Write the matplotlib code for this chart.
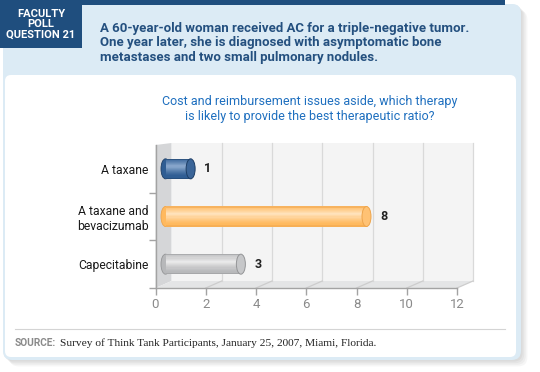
import numpy as np
import matplotlib
matplotlib.use('Agg')
import matplotlib.pyplot as plt
import matplotlib.transforms as mtrans
from matplotlib.patches import FancyBboxPatch, Rectangle, Polygon, Ellipse
from matplotlib.colors import to_rgb

plt.rcParams['font.family'] = ['Roboto', 'DejaVu Sans']

# Datos de la encuesta
categorias = ['A taxane', 'A taxane and\nbevacizumab', 'Capecitabine']
votos = [1, 8, 3]
xticks = [0, 2, 4, 6, 8, 10, 12]

colores_base = ['#2f5d93', '#ffb95e', '#b7b8ba']
colores_luz = ['#8aa8cd', '#ffe4c0', '#ececec']
colores_tapa = ['#3b6598', '#ffc274', '#c6c7c9']
colores_borde = ['#1d3e66', '#eea54c', '#949597']

encabezado = 'FACULTY\nPOLL\nQUESTION 21'
titulo = ('A 60-year-old woman received AC for a triple-negative tumor.\n'
          'One year later, she is diagnosed with asymptomatic bone\n'
          'metastases and two small pulmonary nodules.')
pregunta = ('Cost and reimbursement issues aside, which therapy\n'
            'is likely to provide the best therapeutic ratio?')
fuente = 'Survey of Think Tank Participants, January 25, 2007, Miami, Florida.'

W, H = 540, 372
AZUL = '#1f4e7e'
fig = plt.figure(figsize=(W / 100, H / 100), dpi=100)

# --- fondo y marcos (coordenadas en pixeles) ---
bg = fig.add_axes([0, 0, 1, 1], zorder=0)
bg.set_xlim(0, W)
bg.set_ylim(H, 0)
bg.axis('off')

for k in range(5):
    bg.add_patch(FancyBboxPatch((3 + 1.6 * k, 4 + 1.6 * k), 518, 356,
                                boxstyle='round,pad=0,rounding_size=9',
                                fc='black', ec='none', alpha=0.035))
bg.add_patch(FancyBboxPatch((3, 4), 518, 356, boxstyle='round,pad=0,rounding_size=9',
                            fc='#dcebf5', ec='none'))
bg.add_patch(Rectangle((0, 0), 505, 4.5, fc=AZUL, ec='none'))
bg.add_patch(Rectangle((0, 0), 82, 48, fc=AZUL, ec='none'))
bg.add_patch(FancyBboxPatch((5, 75), 511, 282, boxstyle='round,pad=0,rounding_size=6',
                            fc='white', ec='none'))
bg.plot([15, 505], [329, 329], color='#d4d4d4', lw=0.8)

bg.text(41, 24, encabezado, ha='center', va='center', color='white',
        fontsize=8, fontweight='bold', linespacing=1.05)
bg.text(100, 22, titulo, ha='left', va='top', color='#24507f',
        fontsize=9.5, fontweight='bold', linespacing=1.13)
bg.text(310, 109, pregunta, ha='center', va='center', color='#1e6fbf',
        fontsize=9, linespacing=1.2, multialignment='center')
bg.text(15, 343, 'SOURCE:', ha='left', va='center', color='#8a8a8a',
        fontsize=7.3, fontweight='bold')
bg.text(60, 343, fuente, ha='left', va='center', color='#222222',
        fontsize=8.2, family='Liberation Serif')

# --- grafico ---
ax = fig.add_axes([155.5 / W, 1 - 288 / H, 301.5 / W, 143 / H], zorder=1)
ax.patch.set_alpha(0)
ax.set_xlim(0, 12)
ax.set_ylim(2.5, -0.5)

DX, DY = 16, 7          # profundidad de la caja 3D (px)
BX = 10                 # desplazamiento de las barras (px)
CAP = 9                 # ancho de la tapa del cilindro (px)
ppu = 301.5 / 12
capw = CAP / ppu
alto = 0.42

ident = mtrans.IdentityTransform()
mezcla = mtrans.blended_transform_factory(ax.transData, ax.transAxes)


def pt(x, y, dx=0, dy=0):
    px, py = mezcla.transform((x, y))
    return (px + dx, py + dy)


x_max = xticks[-1]
pared = [pt(0, 0, DX, DY), pt(x_max, 0, DX, DY), pt(x_max, 1, DX, 2), pt(0, 1, DX, 2)]
lateral = [pt(0, 0), pt(0, 0, DX, DY), pt(0, 1, DX, 2), pt(0, 1)]
piso = [pt(0, 0), pt(x_max, 0), pt(x_max, 0, DX, DY), pt(0, 0, DX, DY)]
ax.add_patch(Polygon(pared, closed=True, fc='#f4f4f4', ec='none', transform=ident,
                     clip_on=False, zorder=0.5))
ax.add_patch(Polygon(lateral, closed=True, fc='#d5d6d8', ec='none', transform=ident,
                     clip_on=False, zorder=0.6))
ax.add_patch(Polygon(piso, closed=True, fc='#e4e5e6', ec='none', transform=ident,
                     clip_on=False, zorder=0.6))
for xt in xticks[1:]:
    a, b = pt(xt, 0, DX, DY), pt(xt, 1, DX, 2)
    ax.plot([a[0], b[0]], [a[1], b[1]], color='#d9d9d9', lw=0.9, transform=ident,
            clip_on=False, zorder=0.7)
    c, d = pt(xt, 0), pt(xt, 0, DX, DY)
    ax.plot([c[0], d[0]], [c[1], d[1]], color='#cdcdcd', lw=0.9, transform=ident,
            clip_on=False, zorder=0.7)

# barras cilindricas
desp = ax.transData + mtrans.ScaledTranslation(BX / 100, 0, fig.dpi_scale_trans)
NS = 18
for i, v in enumerate(votos):
    base = np.array(to_rgb(colores_base[i]))
    luz = np.array(to_rgb(colores_luz[i]))
    borde = np.array(to_rgb(colores_borde[i]))
    ax.add_patch(Ellipse((0, i), capw, alto, fc=colores_base[i], ec=colores_borde[i],
                         lw=0.6, transform=desp, zorder=2))
    for s in range(NS):
        t = (s + 0.5) / NS
        w = np.clip(1 - abs(t - 0.38) / 0.5, 0, 1) ** 1.3
        col = base * (1 - w) + luz * w
        if s == 0 or s == NS - 1:
            col = 0.5 * col + 0.5 * borde
        yc = i - alto / 2 + t * alto
        ax.barh(yc, v, height=alto / NS * 1.05, left=0, color=col, lw=0,
                transform=desp, zorder=3)
    ax.add_patch(Ellipse((v, i), capw, alto, fc=colores_tapa[i], ec=colores_borde[i],
                         lw=0.7, transform=desp, zorder=4))
    et = ax.transData + mtrans.ScaledTranslation((BX + CAP / 2 + 9) / 100, 0,
                                                 fig.dpi_scale_trans)
    ax.text(v, i, str(v), transform=et, ha='left', va='center', fontsize=9,
            fontweight='bold', color='#222222')

ax.set_xlim(0, 12)
ax.set_ylim(2.5, -0.5)

for lado in ['top', 'right']:
    ax.spines[lado].set_visible(False)
for lado in ['left', 'bottom']:
    ax.spines[lado].set_color('#a3a3a3')
    ax.spines[lado].set_linewidth(1.0)

ax.set_xticks(xticks)
ax.tick_params(axis='x', length=5, width=1, color='#a3a3a3', labelcolor='#8a8a8a',
               labelsize=9.5, pad=2)
ax.set_yticks(range(len(categorias)))
ax.set_yticklabels(categorias, fontsize=8.7, color='#1a1a1a')
ax.tick_params(axis='y', which='major', length=0, pad=5)
ax.set_yticks([0.5, 1.5, 2.5], minor=True)
ax.tick_params(axis='y', which='minor', length=5, width=1, color='#a3a3a3')

fig.savefig('out.png', dpi=100)
